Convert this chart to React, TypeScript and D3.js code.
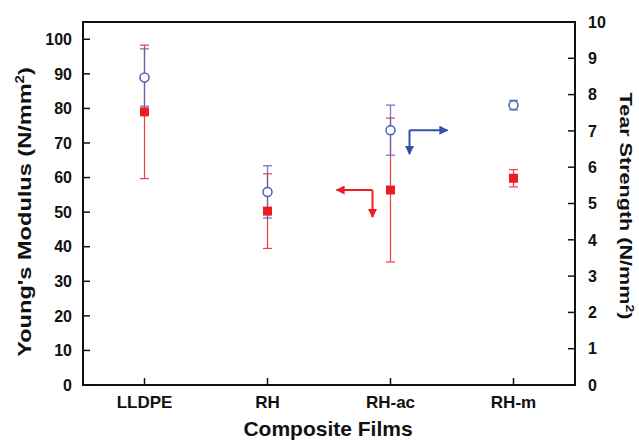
import React from "react";
import * as d3 from "d3";

const categories = ["LLDPE", "RH", "RH-ac", "RH-m"];
const modulus = [79, 50.3, 56.4, 59.8];
const modulusErr = [19.3, 10.8, 20.8, 2.5];
const tear = [8.47, 5.32, 7.02, 7.71];
const tearErr = [0.79, 0.72, 0.69, 0.13];
const leftTicks = [0, 10, 20, 30, 40, 50, 60, 70, 80, 90, 100];
const rightTicks = [0, 1, 2, 3, 4, 5, 6, 7, 8, 9, 10];

const W = 639;
const H = 441;
const M = { left: 83, right: 575, top: 22, bottom: 385 };
const RED = "#ec1c24";
const BLUE = "#5366bd";
const ARROWBLUE = "#3450ad";
const FONT = "'Liberation Sans', Arial, sans-serif";

export default function App() {
  const x = d3.scalePoint<string>().domain(categories).range([M.left, M.right]).padding(0.5);
  const yL = d3.scaleLinear().domain([0, 105]).range([M.bottom, M.top]);
  const yR = d3.scaleLinear().domain([0, 10]).range([M.bottom, M.top]);
  const cap = 4.5;

  const ac = categories.indexOf("RH-ac");
  const axc = x(categories[ac]) as number;
  const ry = yL(modulus[ac]);
  const by = yR(tear[ac]);

  return (
    <svg width={W} height={H} style={{ position: "absolute", left: 0, top: 0, background: "#fff" }} fontFamily={FONT}>
      <defs>
        <marker id="ahR" viewBox="0 0 10 10" refX="9" refY="5" markerWidth="5" markerHeight="4.5" orient="auto" markerUnits="strokeWidth">
          <path d="M0,0 L10,5 L0,10 z" fill={RED} />
        </marker>
        <marker id="ahB" viewBox="0 0 10 10" refX="9" refY="5" markerWidth="5" markerHeight="4.5" orient="auto" markerUnits="strokeWidth">
          <path d="M0,0 L10,5 L0,10 z" fill={ARROWBLUE} />
        </marker>
      </defs>
      <rect x={M.left} y={M.top} width={M.right - M.left} height={M.bottom - M.top} fill="none" stroke="#111" strokeWidth={2} />
      {leftTicks.map((t) => (
        <g key={"l" + t}>
          <line x1={M.left} x2={M.left + 7} y1={yL(t)} y2={yL(t)} stroke="#111" strokeWidth={1.5} />
          <text x={M.left - 11} y={yL(t)} dy="0.36em" textAnchor="end" fontSize={16} fontWeight="bold" fill="#111">{t}</text>
        </g>
      ))}
      {rightTicks.map((t) => (
        <g key={"r" + t}>
          <line x1={M.right - 7} x2={M.right} y1={yR(t)} y2={yR(t)} stroke="#111" strokeWidth={1.5} />
          <text x={M.right + 13} y={yR(t)} dy="0.36em" textAnchor="start" fontSize={16} fontWeight="bold" fill="#111">{t}</text>
        </g>
      ))}
      {categories.map((c) => (
        <g key={"c" + c}>
          <line x1={x(c)} x2={x(c)} y1={M.bottom} y2={M.bottom - 7} stroke="#111" strokeWidth={1.5} />
          <text x={x(c)} y={M.bottom + 23} textAnchor="middle" fontSize={17} fontWeight="bold" fill="#111">{c}</text>
        </g>
      ))}
      <text x={(M.left + M.right) / 2 - 1} y={436} textAnchor="middle" fontSize={21} fontWeight="bold" fill="#111">Composite Films</text>
      <g transform="translate(31,212) rotate(-90) scale(1.24,1)">
        <text textAnchor="middle" fontSize={19} fontWeight="bold" fill="#111">
          Young's Modulus (N/mm<tspan dy="-7" fontSize={12}>2</tspan><tspan dy="7">)</tspan>
        </text>
      </g>
      <g transform="translate(620,206) rotate(90) scale(1.27,1)">
        <text textAnchor="middle" fontSize={17} fontWeight="bold" fill="#111">
          Tear Strength (N/mm<tspan dy="-6" fontSize={11}>2</tspan><tspan dy="6">)</tspan>
        </text>
      </g>

      {categories.map((c, i) => {
        const cx = x(c) as number;
        const t = yL(modulus[i] + modulusErr[i]);
        const b = yL(modulus[i] - modulusErr[i]);
        return (
          <g key={"re" + c} stroke={RED} strokeWidth={1.2} opacity={0.85}>
            <line x1={cx} x2={cx} y1={t} y2={b} />
            <line x1={cx - cap} x2={cx + cap} y1={t} y2={t} />
            <line x1={cx - cap} x2={cx + cap} y1={b} y2={b} />
          </g>
        );
      })}
      {categories.map((c, i) => {
        const cx = x(c) as number;
        const t = yR(tear[i] + tearErr[i]);
        const b = yR(tear[i] - tearErr[i]);
        return (
          <g key={"be" + c} stroke={BLUE} strokeWidth={1.3} opacity={0.85}>
            <line x1={cx} x2={cx} y1={t} y2={b} />
            <line x1={cx - cap} x2={cx + cap} y1={t} y2={t} />
            <line x1={cx - cap} x2={cx + cap} y1={b} y2={b} />
          </g>
        );
      })}
      {categories.map((c, i) => (
        <rect key={"sq" + c} x={(x(c) as number) - 4.5} y={yL(modulus[i]) - 4.5} width={9} height={9} fill={RED} />
      ))}
      {categories.map((c, i) => (
        <circle key={"ci" + c} cx={x(c)} cy={yR(tear[i])} r={4.5} fill="#fff" stroke={BLUE} strokeWidth={1.6} />
      ))}

      <line x1={axc - 18} y1={ry} x2={axc - 18} y2={ry + 27} stroke={RED} strokeWidth={2} markerEnd="url(#ahR)" />
      <line x1={axc - 18} y1={ry} x2={axc - 54} y2={ry} stroke={RED} strokeWidth={2} markerEnd="url(#ahR)" />
      <line x1={axc + 19} y1={by} x2={axc + 19} y2={by + 24} stroke={ARROWBLUE} strokeWidth={2} markerEnd="url(#ahB)" />
      <line x1={axc + 19} y1={by} x2={axc + 57} y2={by} stroke={ARROWBLUE} strokeWidth={2} markerEnd="url(#ahB)" />
    </svg>
  );
}
